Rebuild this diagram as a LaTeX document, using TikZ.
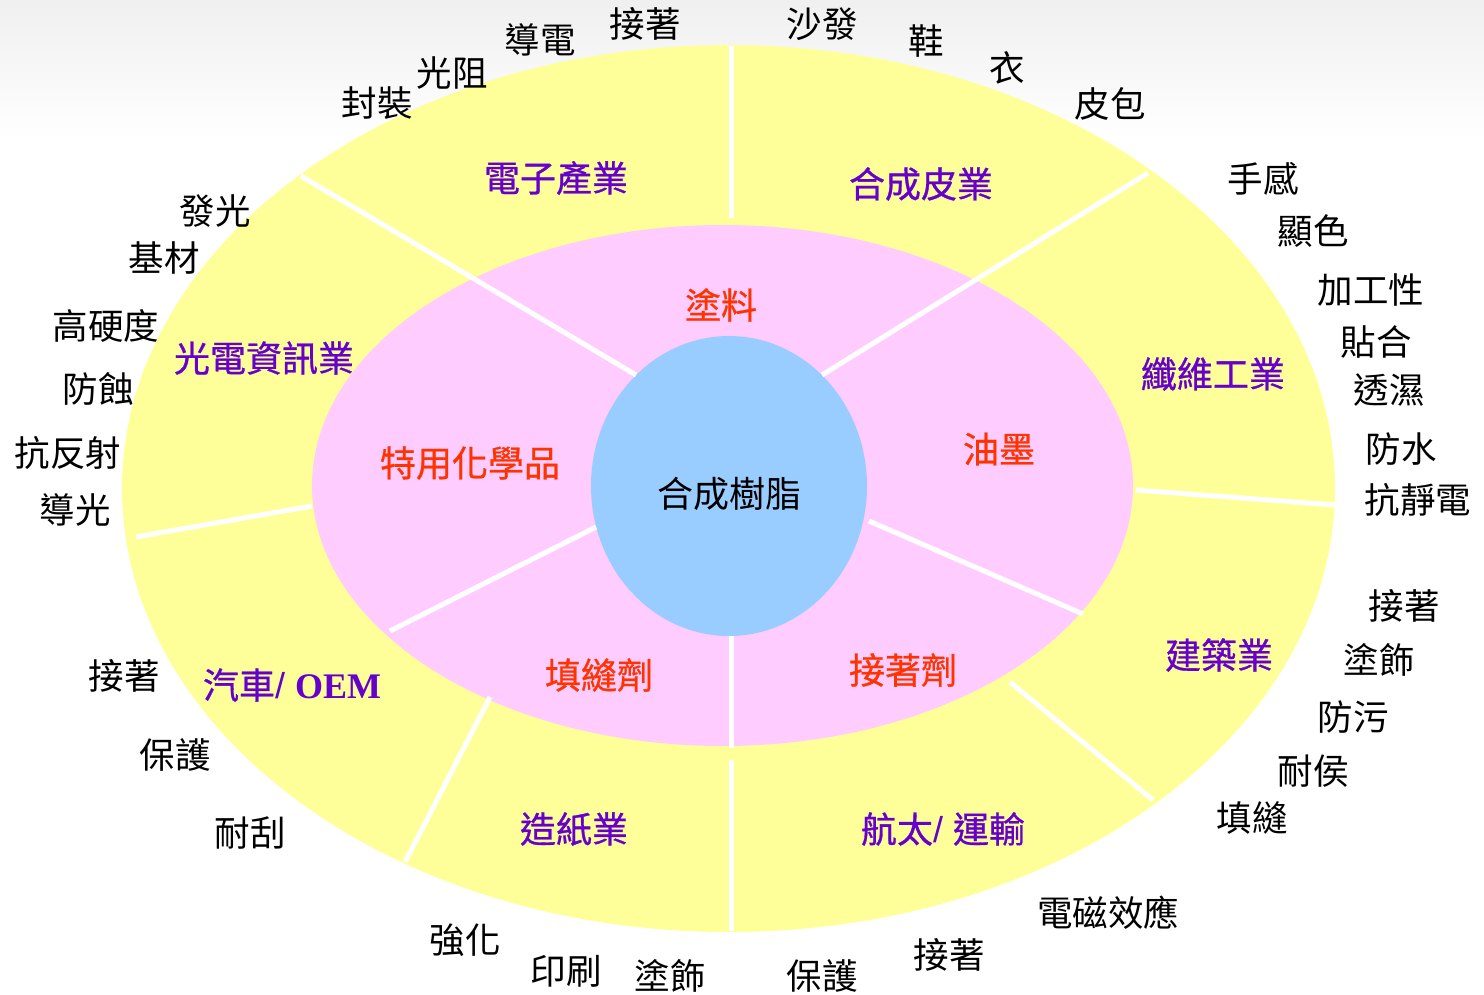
\documentclass[tikz,border=0pt]{standalone}
\usepackage{fontspec}
\setmainfont{Noto Sans CJK TC}
\newfontfamily\cjkfb[FakeBold=0.8]{Noto Sans CJK TC}
\newfontfamily\latserif{Liberation Serif}
\newfontfamily\latsans{Liberation Sans}
\definecolor{ringY}{HTML}{FFFF99}
\definecolor{ringP}{HTML}{FFCCFF}
\definecolor{coreB}{HTML}{99CCFF}
\definecolor{indC}{HTML}{6600CC}
\definecolor{chemC}{HTML}{FF3300}
\begin{document}
\begin{tikzpicture}[x=1pt,y=-1pt,
  lab/.style={inner sep=0pt, text=black, font=\fontsize{35.5}{38}\selectfont},
  ind/.style={inner sep=0pt, text=indC, font=\fontsize{36}{38}\selectfont\cjkfb},
  chem/.style={inner sep=0pt, text=chemC, font=\fontsize{36}{38}\selectfont\cjkfb},
  divider/.style={draw=white, line width=5pt}]
\useasboundingbox (0,0) rectangle (1484,994);
\fill[white] (0,0) rectangle (1484,994);
\shade[top color=black!6, bottom color=white] (0,0) rectangle (1484,140);

% rings
\fill[ringY] (728.5,488.5) ellipse [x radius=606.5pt, y radius=443.5pt];
\fill[ringP] (722.5,485.5) ellipse [x radius=410.5pt, y radius=260.5pt];
\fill[coreB] (729,486) ellipse [x radius=138pt, y radius=150pt];

% dividers
\draw[divider] (731,46) -- (731,218);
\draw[divider] (301,176) -- (636,375);
\draw[divider] (1148,173) -- (822,375);
\draw[divider] (136,537) -- (312,506);
\draw[divider] (1136,490) -- (1335,505);
\draw[divider] (390,631) -- (596,527);
\draw[divider] (869,521) -- (1083,614);
\draw[divider] (731,636) -- (731,748);
\draw[divider] (731,760) -- (731,931);
\draw[divider] (490,697) -- (405,862);
\draw[divider] (1010,682) -- (1153,800);

% center
\node[lab, font=\fontsize{36}{38}\selectfont] (core) at (729,494) {合成樹脂};

% chemicals (pink ring)
\node[chem] (tuliao) at (721,305) {塗料};
\node[chem] (youmo) at (999,449) {油墨};
\node[chem] (teyong) at (470,463) {特用化學品};
\node[chem] (tianfeng) at (599,675) {填縫劑};
\node[chem] (jiezhe) at (903,670) {接著劑};

% industries (yellow ring)
\node[ind] (dianzi) at (556,178) {電子產業};
\node[ind] (hecheng) at (921,184) {合成皮業};
\node[ind] (guangdian) at (264,358) {光電資訊業};
\node[ind] (xianwei) at (1213,374) {纖維工業};
\node[ind] (qiche) at (292,685) {汽車\latsans/ \latserif\bfseries OEM};
\node[ind] (zaozhi) at (574,829) {造紙業};
\node[ind] (hangtai) at (943,829) {航太\latsans/ \cjkfb 運輸};
\node[ind] (jianzhu) at (1219,655) {建築業};

% outside labels: top
\node[lab] (a1) at (377,103) {封裝};
\node[lab] (a2) at (452,73) {光阻};
\node[lab] (a3) at (540,40) {導電};
\node[lab] (a4) at (645,24) {接著};
\node[lab] (b1) at (822,24) {沙發};
\node[lab] (b2) at (926,41) {鞋};
\node[lab] (b3) at (1007,68) {衣};
\node[lab] (b4) at (1110,104) {皮包};
% right
\node[lab] (c1) at (1263,179) {手感};
\node[lab] (c2) at (1313,231) {顯色};
\node[lab] (c3) at (1371,290) {加工性};
\node[lab] (c4) at (1376,342) {貼合};
\node[lab] (c5) at (1389,390) {透濕};
\node[lab] (c6) at (1401,449) {防水};
\node[lab] (c7) at (1418,500) {抗靜電};
\node[lab] (d1) at (1404,606) {接著};
\node[lab] (d2) at (1379,660) {塗飾};
\node[lab] (d3) at (1353,717) {防污};
\node[lab] (d4) at (1313,771) {耐侯};
\node[lab] (d5) at (1252,818) {填縫};
% bottom
\node[lab] (e1) at (1108,913) {電磁效應};
\node[lab] (e2) at (949,955) {接著};
\node[lab] (e3) at (822,976) {保護};
\node[lab] (f1) at (670,976) {塗飾};
\node[lab] (f2) at (566,971) {印刷};
\node[lab] (f3) at (465,940) {強化};
% left
\node[lab] (g1) at (250,833) {耐刮};
\node[lab] (g2) at (175,755) {保護};
\node[lab] (g3) at (124,676) {接著};
\node[lab] (h1) at (75,510) {導光};
\node[lab] (h2) at (68,453) {抗反射};
\node[lab] (h3) at (98,389) {防蝕};
\node[lab] (h4) at (106,326) {高硬度};
\node[lab] (h5) at (164,258) {基材};
\node[lab] (h6) at (215,211) {發光};
\end{tikzpicture}
\end{document}
